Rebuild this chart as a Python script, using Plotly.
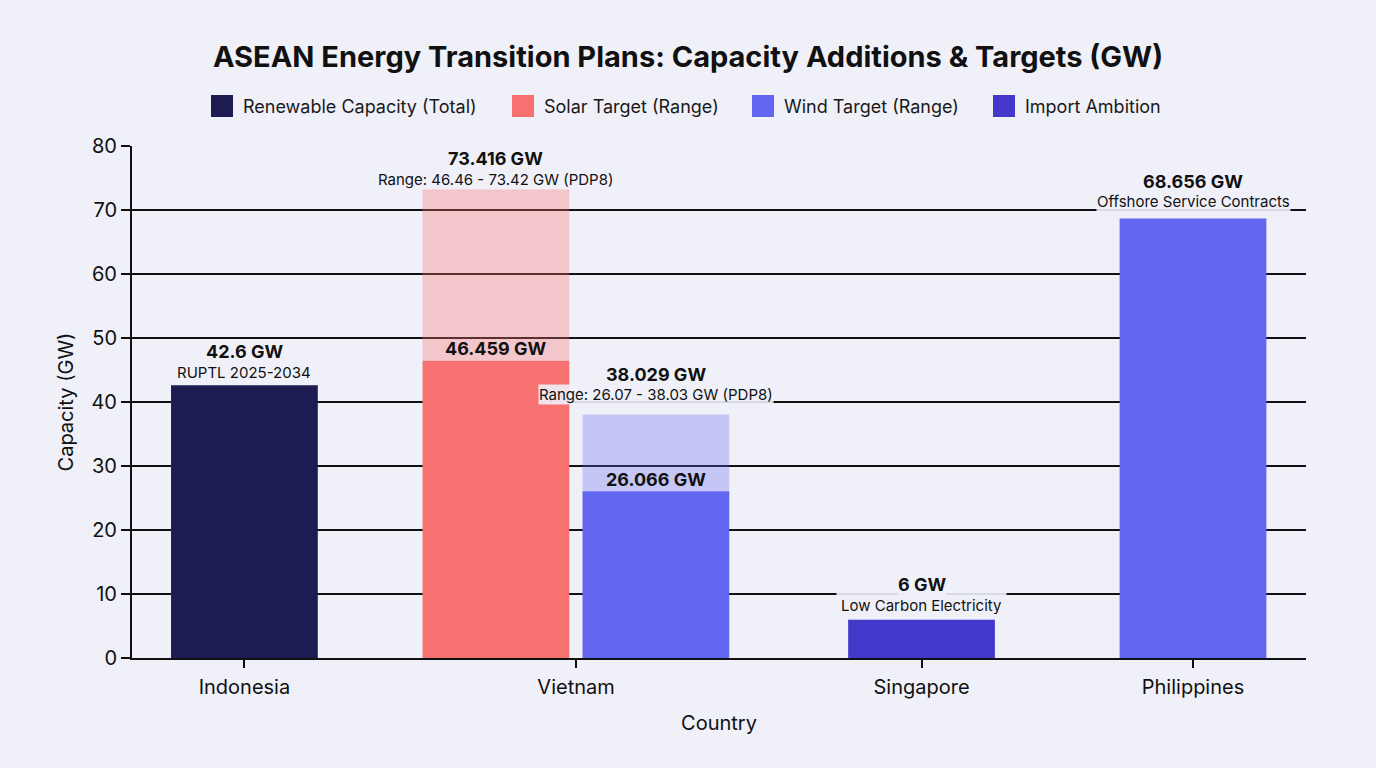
import plotly.graph_objects as go

# ---------------- data ----------------
countries = ["Indonesia", "Vietnam", "Singapore", "Philippines"]

renewable_countries = ["Indonesia"]
renewable_gw = [42.6]
renewable_notes = ["RUPTL 2025-2034"]

solar_countries = ["Vietnam"]
solar_low_gw = [46.459]
solar_high_gw = [73.416]
solar_notes = ["PDP8"]

wind_countries = ["Vietnam"]
wind_low_gw = [26.066]
wind_high_gw = [38.029]
wind_notes = ["PDP8"]

offshore_countries = ["Philippines"]
offshore_gw = [68.656]
offshore_notes = ["Offshore Service Contracts"]

import_countries = ["Singapore"]
import_gw = [6]
import_notes = ["Low Carbon Electricity"]

legend_names = ["Renewable Capacity (Total)", "Solar Target (Range)",
                "Wind Target (Range)", "Import Ambition"]

# ---------------- style / layout ----------------
BG = "#EFF0F8"
C_REN = "#1C1C52"
C_SOLAR = "#F87171"
C_WIND = "#6366F1"
C_IMPORT = "#4338CA"
FONT = "Inter, Roboto, sans-serif"
BAR_W = 0.5
# category centre positions along the (irregularly spaced) axis
CAT_POS = {"Indonesia": 0.383, "Vietnam": 1.513, "Singapore": 2.690, "Philippines": 3.615}
SHIFT = {("solar", "Vietnam"): -0.273, ("wind", "Vietnam"): 0.272}


def xpos(series, cs):
    return [CAT_POS[c] + SHIFT.get((series, c), 0.0) for c in cs]


fig = go.Figure()

# range (light) bars
fig.add_trace(go.Bar(
    x=xpos("solar", solar_countries), base=solar_low_gw,
    y=[h - l for h, l in zip(solar_high_gw, solar_low_gw)],
    width=BAR_W, marker=dict(color=C_SOLAR, line=dict(width=0)), opacity=0.33,
    showlegend=False, hoverinfo="skip"))
fig.add_trace(go.Bar(
    x=xpos("wind", wind_countries), base=wind_low_gw,
    y=[h - l for h, l in zip(wind_high_gw, wind_low_gw)],
    width=BAR_W, marker=dict(color=C_WIND, line=dict(width=0)), opacity=0.30,
    showlegend=False, hoverinfo="skip"))

# solid bars
fig.add_trace(go.Bar(name=legend_names[0], x=xpos("ren", renewable_countries), y=renewable_gw,
                     width=BAR_W, marker=dict(color=C_REN, line=dict(width=0)), showlegend=False))
fig.add_trace(go.Bar(name=legend_names[1], x=xpos("solar", solar_countries), y=solar_low_gw,
                     width=BAR_W, marker=dict(color=C_SOLAR, line=dict(width=0)), showlegend=False))
fig.add_trace(go.Bar(name=legend_names[2], x=xpos("wind", wind_countries) + xpos("off", offshore_countries),
                     y=wind_low_gw + offshore_gw,
                     width=BAR_W, marker=dict(color=C_WIND, line=dict(width=0)), showlegend=False))
fig.add_trace(go.Bar(name=legend_names[3], x=xpos("imp", import_countries), y=import_gw,
                     width=BAR_W, marker=dict(color=C_IMPORT, line=dict(width=0)), showlegend=False))

# ---------------- value labels ----------------
LBL_BG = "rgba(239,240,248,0.9)"

# (x, y, bold text, note text, px above bar top for bold line, px for note line, bold pad, note pad)
labels = []
for c, v, n in zip(renewable_countries, renewable_gw, renewable_notes):
    labels.append((xpos("ren", [c])[0], v, f"{v:g} GW", n, 34, 13, 0, 0))
for c, lo, hi, n in zip(solar_countries, solar_low_gw, solar_high_gw, solar_notes):
    labels.append((xpos("solar", [c])[0], hi, f"{hi:g} GW", f"Range: {lo:.2f} - {hi:.2f} GW ({n})", 30, 9, 0, 0))
    labels.append((xpos("solar", [c])[0], lo, f"{lo:g} GW", None, 12, None, 0, 0))
for c, lo, hi, n in zip(wind_countries, wind_low_gw, wind_high_gw, wind_notes):
    labels.append((xpos("wind", [c])[0], hi, f"{hi:g} GW", f"Range: {lo:.2f} - {hi:.2f} GW ({n})", 40, 20, 0, 0))
    labels.append((xpos("wind", [c])[0], lo, f"{lo:g} GW", None, 12, None, 0, 0))
for c, v, n in zip(import_countries, import_gw, import_notes):
    labels.append((xpos("imp", [c])[0], v, f"{v:g} GW", n, 35, 14, 0, 4))
for c, v, n in zip(offshore_countries, offshore_gw, offshore_notes):
    labels.append((xpos("off", [c])[0], v, f"{v:g} GW", n, 37, 17, 0, 0))

for x, y, bold, note, s_b, s_n, pad_b, pad_n in labels:
    has_note = note is not None
    if has_note:
        fig.add_annotation(x=x, y=y, xref="x", yref="y", text=note, showarrow=False,
                           yanchor="middle", xanchor="center", yshift=s_n,
                           font=dict(family=FONT, size=15, color="#111111"),
                           bgcolor=LBL_BG, borderpad=pad_n)
    fig.add_annotation(x=x, y=y, xref="x", yref="y", text=f"<b>{bold}</b>", showarrow=False,
                       yanchor="middle", xanchor="center", yshift=s_b,
                       font=dict(family=FONT, size=18, color="#111111"),
                       bgcolor=LBL_BG if has_note else "rgba(0,0,0,0)", borderpad=pad_b)

# ---------------- manual legend ----------------
W, H = 1376, 768
ML, MR, MT, MB = 132, 70, 146, 110
PW, PH = W - ML - MR, H - MT - MB


def px_x(p):
    return (p - ML) / PW


def px_y(p):
    return (H - MB - p) / PH


legend_colors = [C_REN, C_SOLAR, C_WIND, C_IMPORT]
legend_sq_left = [211, 512, 752, 993]
for name, col, x0 in zip(legend_names, legend_colors, legend_sq_left):
    fig.add_shape(type="rect", xref="paper", yref="paper",
                  x0=px_x(x0), x1=px_x(x0 + 22), y0=px_y(117), y1=px_y(95),
                  fillcolor=col, line=dict(width=0), layer="above")
    fig.add_annotation(xref="paper", yref="paper", x=px_x(x0 + 30), y=px_y(106),
                       xanchor="left", yanchor="middle", showarrow=False, text=name,
                       font=dict(family=FONT, size=18, color="#1a1a1a"))

fig.update_layout(
    width=W, height=H,
    paper_bgcolor=BG, plot_bgcolor=BG,
    margin=dict(l=ML, r=MR, t=MT, b=MB),
    barmode="overlay",
    showlegend=False,
    font=dict(family=FONT, color="#111111"),
    title=dict(text="<b>ASEAN Energy Transition Plans: Capacity Additions &amp; Targets (GW)</b>",
               x=0.5, xanchor="center", y=1 - 57 / H, yanchor="middle", yref="container",
               font=dict(family=FONT, size=29, color="#111111")),
    xaxis=dict(range=[0, 4], tickmode="array",
               tickvals=[CAT_POS[c] for c in countries], ticktext=countries,
               showgrid=False, zeroline=False, showline=True, linecolor="#111111", linewidth=2,
               ticks="outside", ticklen=8, tickwidth=2, tickcolor="#111111",
               tickfont=dict(family=FONT, size=20, color="#111111"), ticklabelstandoff=2,
               title=dict(text="Country", font=dict(family=FONT, size=20, color="#111111"), standoff=18),
               fixedrange=True),
    yaxis=dict(range=[0, 80], tickmode="linear", tick0=0, dtick=10,
               showgrid=True, gridcolor="#111111", gridwidth=1.6, zeroline=False,
               showline=True, linecolor="#111111", linewidth=2,
               ticks="outside", ticklen=9, tickwidth=1.6, tickcolor="#111111",
               tickfont=dict(family=FONT, size=20, color="#111111"),
               title=dict(text="Capacity (GW)", font=dict(family=FONT, size=20, color="#111111"), standoff=12),
               fixedrange=True),
)

fig.write_html("out.html")
